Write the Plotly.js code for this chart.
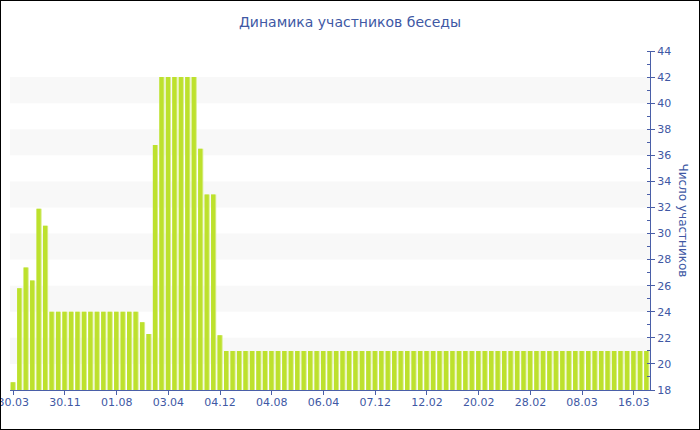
<!DOCTYPE html>
<html>
<head>
<meta charset="utf-8">
<script src="https://cdn.plot.ly/plotly-3.0.1.min.js"></script>
<style>
  html, body { margin: 0; padding: 0; background: #fff; }
  #frame { width: 700px; height: 430px; box-sizing: border-box; border: 1px solid #000; overflow: hidden; }
  #chart { width: 698px; height: 428px; }
</style>
</head>
<body>
<div id="frame"><div id="chart"></div></div>
<script>
// ---- data ----
const chartTitle = "Динамика участников беседы";
const yTitle = "Число участников";
const tickLabels = ["30.03","30.11","01.08","03.04","04.12","04.08","06.04","07.12","12.02","20.02","28.02","08.03","16.03"];
const tickStep = 8;
const participants = [
  18.6, 25.8, 27.4, 26.4, 31.9, 30.6,
  24, 24, 24, 24, 24, 24, 24, 24, 24, 24, 24, 24, 24, 24,
  23.2, 22.3, 36.8,
  42, 42, 42, 42, 42, 42,
  36.5, 33, 33, 22.2,
  21, 21, 21, 21, 21, 21, 21, 21, 21, 21, 21, 21, 21, 21, 21, 21, 21, 21, 21, 21, 21, 21,
  21, 21, 21, 21, 21, 21, 21, 21, 21, 21, 21, 21, 21, 21, 21, 21, 21, 21, 21, 21, 21, 21,
  21, 21, 21, 21, 21, 21, 21, 21, 21, 21, 21, 21, 21, 21, 21, 21, 21, 21, 21, 21, 21, 21
];
const yRange = [18, 44];

// ---- build ----
const xIdx = participants.map((_, i) => i);
const tickVals = tickLabels.map((_, i) => i * tickStep);
const blue = "#4058a4";
const axisBlue = "#4a5fa8";

const highlight = {
  type: "bar", x: xIdx, y: participants,
  width: 0.8, offset: -0.4,
  marker: { color: "#d9ee8c", line: { width: 0 } },
  hoverinfo: "skip", showlegend: false
};
const main = {
  type: "bar", x: xIdx, y: participants,
  width: 0.65, offset: -0.4,
  marker: { color: "#bde12d", line: { width: 0 } },
  showlegend: false
};

const shapes = [];
for (let v = yRange[0] + 2; v < yRange[1]; v += 4) {
  shapes.push({
    type: "rect", xref: "paper", yref: "y", x0: 0, x1: 1, y0: v, y1: v + 2,
    fillcolor: "#f8f8f8", line: { width: 0 }, layer: "below"
  });
}

const layout = {
  width: 698, height: 428,
  margin: { l: 9, r: 49, t: 50, b: 39 },
  paper_bgcolor: "#ffffff", plot_bgcolor: "#ffffff",
  barmode: "overlay",
  font: { family: "DejaVu Sans, Verdana, sans-serif", color: blue, size: 11 },
  title: { text: chartTitle, font: { size: 14, color: blue }, x: 0.5, xanchor: "center", y: 0.95, yanchor: "middle" },
  xaxis: {
    range: [-0.5, participants.length - 0.5],
    tickmode: "array", tickvals: tickVals, ticktext: tickLabels,
    ticklabeloverflow: "allow",
    ticklabelstandoff: -2,
    showline: true, linecolor: axisBlue, linewidth: 1,
    ticks: "outside", ticklen: 4, tickcolor: axisBlue,
    showgrid: false, zeroline: false,
    tickfont: { size: 11, color: blue }
  },
  yaxis: {
    side: "right", range: yRange, dtick: 2, tick0: 18,
    showline: true, linecolor: axisBlue, linewidth: 1,
    ticks: "outside", ticklen: 4, tickcolor: axisBlue,
    minor: { dtick: 1, ticks: "inside", ticklen: 3, tickcolor: axisBlue, showgrid: false },
    showgrid: false, zeroline: false,
    tickfont: { size: 11, color: blue }
  },
  shapes: shapes,
  annotations: [{
    text: yTitle, xref: "paper", yref: "paper", x: 1, y: 0.5,
    xshift: 33, showarrow: false, textangle: 90,
    font: { size: 12, color: blue }, xanchor: "center", yanchor: "middle"
  }]
};

Plotly.newPlot("chart", [highlight, main], layout, { displayModeBar: false, staticPlot: true });
</script>
</body>
</html>
